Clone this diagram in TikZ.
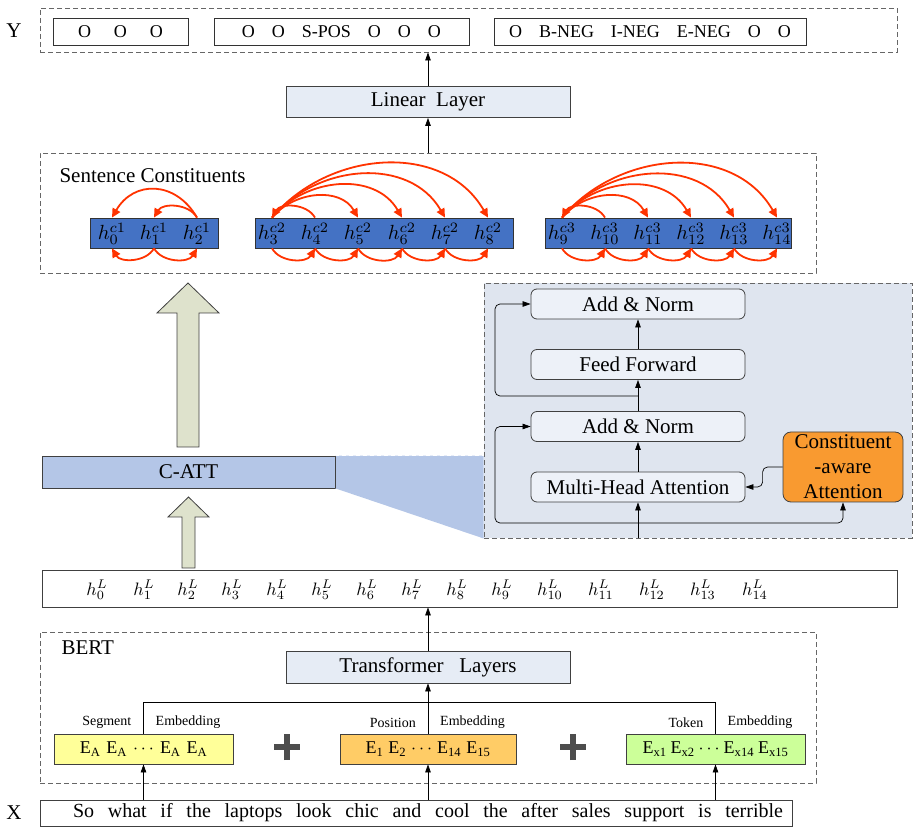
\RequirePackage{fix-cm}
\documentclass[tikz,border=0pt]{standalone}
\usepackage{fontspec}
\setmainfont{Liberation Serif}
\usepackage{tikz}
\usetikzlibrary{arrows.meta,positioning}
\definecolor{boxfill}{HTML}{E6ECF5}
\definecolor{panelfill}{HTML}{DFE5EF}
\definecolor{layerfill}{HTML}{EDF1F8}
\definecolor{cattfill}{HTML}{B4C6E7}
\definecolor{barblue}{HTML}{4472C4}
\definecolor{arcred}{HTML}{FF3300}
\definecolor{caaorange}{HTML}{F99A30}
\definecolor{segyellow}{HTML}{FFFF99}
\definecolor{posorange}{HTML}{FFCC66}
\definecolor{tokgreen}{HTML}{CCFF99}
\definecolor{blockfill}{HTML}{DEE2CC}
\definecolor{dashgray}{HTML}{666666}
\definecolor{plusgray}{HTML}{4D4D4D}
\tikzset{
  txt/.style={font=\fontsize{21}{25}\selectfont},
  dashframe/.style={draw=dashgray,line width=0.9pt,dash pattern=on 5pt off 3pt,inner sep=0pt},
  tagbox/.style={draw=black!80,line width=0.8pt,minimum height=27pt,inner sep=0pt,font=\fontsize{18}{20}\selectfont},
  layer/.style={draw=black!75,fill=boxfill,line width=0.8pt,minimum height=31pt,minimum width=284pt,inner sep=0pt,txt},
  bar/.style={draw=black!80,fill=barblue,line width=0.8pt,minimum height=30pt,inner sep=0pt},
  hc/.style={inner sep=0pt},
  hlab/.style={inner sep=0pt},
  tblock/.style={draw=black!75,fill=layerfill,rounded corners=6pt,line width=0.8pt,minimum width=214pt,minimum height=30pt,inner sep=0pt,txt},
  emb/.style={draw=black!75,line width=0.8pt,minimum height=30pt,inner sep=0pt,font=\fontsize{18}{20}\selectfont},
  elabel/.style={font=\fontsize{14}{16}\selectfont,inner sep=0pt},
  arr/.style={-{Triangle[length=8pt,width=5.5pt]},line width=0.7pt},
  link/.style={line width=0.7pt,rounded corners=5pt},
  rarc/.style={arcred,line width=1.8pt,-{Triangle[length=9pt,width=8.5pt]}},
  blockarrow/.style={draw=black!75,fill=blockfill,line width=0.8pt},
}
\newcommand{\tsp}[1]{\hspace{#1pt}}
\newcommand{\emb}[1]{E\textsubscript{#1}}
% h with sub- and superscript, set at 10pt and blown up
\newcommand{\hvec}[3]{\scalebox{#3}{\fontsize{10}{12}\selectfont$h^{#1}_{#2}$}}

\begin{document}
\begin{tikzpicture}[x=1pt,y=1pt]
  \useasboundingbox (0,0) rectangle (913,828);

  % output tags
  \node[dashframe,minimum width=857pt,minimum height=44pt] (ybox) at (468.5,798) {};
  \node[txt] (ylab) at (14,797) {Y};
  \node[tagbox,minimum width=135pt] (t1) at (120.5,796.5) {O\tsp{23}O\tsp{23}O};
  \node[tagbox,minimum width=255pt] (t2) at (341.5,796.5) {O\tsp{17}O\tsp{17}S-POS\tsp{17}O\tsp{17}O\tsp{17}O};
  \node[tagbox,minimum width=312pt] (t3) at (650,796.5) {O\tsp{17}B-NEG\tsp{17}I-NEG\tsp{17}E-NEG\tsp{17}O\tsp{17}O};

  \node[layer] (lin) at (428,726) {Linear\ \ Layer};
  \draw[arr] (lin.north) -- (lin.north |- ybox.south);

  % constituents
  \node[dashframe,minimum width=776pt,minimum height=120pt] (sc) at (428,615) {};
  \node[txt,anchor=west] (sclab) at (56,652) {Sentence Constituents};
  \draw[arr] (lin |- sc.north) -- (lin.south);
  \node[bar,minimum width=128pt] (b1) at (154,595) {};
  \node[bar,minimum width=258pt] (b2) at (384,595) {};
  \node[bar,minimum width=246pt] (b3) at (668,595) {};
  \foreach \i/\x/\g in {0/112/1,1/154/1,2/197/1,3/272/2,4/315/2,5/358/2,6/402/2,7/445/2,8/488/2,
                        9/562/3,10/605/3,11/648/3,12/691/3,13/734/3,14/777/3}
    \node[hc] (h\i) at (\x,594) {\hvec{c\g}{\i}{2.05}};

  \foreach \s/\t/\b/\o/\n/\l in {2/0/1/120/60/1.3,2/1/1/120/60/1,4/3/2/120/60/1,
                                 3/5/2/50/120/1.05,3/6/2/50/120/1.05,3/7/2/50/120/1.05,3/8/2/50/120/1.05,
                                 10/9/3/120/60/1,9/11/3/50/120/1.05,9/12/3/50/120/1.05,9/13/3/50/120/1.05,9/14/3/50/120/1.05}
    \draw[rarc] (h\s |- b\b.north) to[out=\o,in=\n,looseness=\l] (h\t |- b\b.north);
  \foreach \s/\t/\b/\o/\n in {1/0/1/-120/-60,1/2/1/-60/-120,
                              3/4/2/-60/-120,4/5/2/-60/-120,5/6/2/-60/-120,6/7/2/-60/-120,7/8/2/-60/-120,
                              9/10/3/-60/-120,10/11/3/-60/-120,11/12/3/-60/-120,12/13/3/-60/-120,13/14/3/-60/-120}
    \draw[rarc] (h\s |- b\b.south) to[out=\o,in=\n] (h\t |- b\b.south);

  % attention block and its zoomed view
  \node[dashframe,fill=panelfill,minimum width=428pt,minimum height=255pt] (panel) at (698,417.5) {};
  \node[draw=black!75,fill=cattfill,line width=0.8pt,minimum width=293pt,minimum height=32pt,inner sep=0pt,txt] (catt) at (188.5,356) {C-ATT};
  \fill[cattfill] (catt.north east) -- (panel.west |- catt.north) -- (panel.south west) -- (catt.south east) -- cycle;
  \draw[white,line width=0.6pt,dash pattern=on 4pt off 3pt] (catt.north east) -- (panel.west |- catt.north);
  \draw[black!75,line width=0.8pt] (catt.north east) -- (catt.south east);

  \draw[blockarrow] (177,381) -- (177,515) -- (157,515) -- (188,545) -- (219,515) -- (199,515) -- (199,381) -- cycle;
  \draw[blockarrow] (182,260) -- (182,311) -- (168,311) -- (188.5,331) -- (209,311) -- (195,311) -- (195,260) -- cycle;

  \node[tblock] (an1) at (638,524) {Add \& Norm};
  \node[tblock] (ff) at (638,463.5) {Feed Forward};
  \node[tblock] (an2) at (638,401.5) {Add \& Norm};
  \node[tblock] (mha) at (638,341) {Multi-Head Attention};
  \node[draw=black!75,fill=caaorange,rounded corners=8pt,line width=0.8pt,minimum width=120pt,minimum height=70pt,
        inner sep=0pt,align=center,font=\fontsize{21}{25}\selectfont] (caa) at (843,361) {Constituent\\-aware\\Attention};
  \draw[arr] (mha |- panel.south) -- (mha.south);
  \draw[arr] (mha.north) -- (an2.south);
  \draw[arr] (an2.north) -- (ff.south);
  \draw[arr] (ff.north) -- (an1.south);
  \coordinate (r1) at (638,305);
  \coordinate (r2) at (638,432);
  \draw[arr,link] (r1) -- ++(-143,0) |- (an2.west);
  \draw[arr,link] (r1) -| (caa.south);
  \draw[arr,link] (r2) -- ++(-143,0) |- (an1.west);
  \draw[arr,link] (caa.west) -- ++(-20,0) |- (mha.east);

  % last hidden layer
  \node[draw=black!75,line width=0.8pt,minimum width=855pt,minimum height=37pt,inner sep=0pt] (hrow) at (469.5,239.5) {};
  \foreach \i/\x in {0/97,1/144,2/188,3/232,4/277,5/322,6/367,7/412,8/457,9/502,10/550,11/601,12/652,13/703,14/755}
    \node[hlab] (l\i) at (\x,238) {\hvec{L}{\i}{1.8}};

  % BERT encoder
  \node[dashframe,minimum width=776pt,minimum height=151pt] (bert) at (428,120.5) {};
  \node[txt,anchor=west] (bertlab) at (58,180) {BERT};
  \node[layer,minimum height=32pt] (tl) at (428,161) {Transformer\ \ \ Layers};
  \draw[arr] (tl.north) -- (tl.north |- hrow.south);
  \node[emb,fill=segyellow,minimum width=179pt] (seg) at (143.5,79) {\emb{A}\tsp{6}\emb{A}\tsp{6}$\cdots$\tsp{6}\emb{A}\tsp{6}\emb{A}};
  \node[emb,fill=posorange,minimum width=176pt] (pos) at (428,79) {\emb{1}\tsp{5}\emb{2}\tsp{5}$\cdots$\tsp{5}\emb{14}\tsp{5}\emb{15}};
  \node[emb,fill=tokgreen,minimum width=179pt] (tok) at (715.5,79) {\emb{x1}\tsp{4}\emb{x2}\tsp{4}$\cdots$\tsp{4}\emb{x14}\tsp{4}\emb{x15}};
  \draw[line width=0.7pt] (seg.north) -- ++(0,31) -| (tok.north);
  \draw[arr] (pos.north) -- (tl.south);
  \foreach \e/\w in {seg/Segment,pos/Position,tok/Token} {
    \node[elabel,anchor=east] at ([xshift=-12pt,yshift=11pt]\e.north) {\w};
    \node[elabel,anchor=west] at ([xshift=12pt,yshift=11pt]\e.north) {Embedding};
  }
  \foreach \px in {287,573}
    \draw[plusgray,line width=6pt] (\px-13,81) -- (\px+13,81) (\px,68) -- (\px,94);

  % input sentence
  \node[txt] (xlab) at (14,15) {X};
  \node[draw=black!75,line width=0.8pt,minimum width=752pt,minimum height=26pt,inner sep=0pt,
        font=\fontsize{20}{22}\selectfont] (sent) at (416,15)
        {\hspace{24pt}\makebox[710pt][s]{So what if the laptops look chic and cool the after sales support is terrible}};
  \draw[arr] (seg |- sent.north) -- (seg.south);
  \draw[arr] (pos |- sent.north) -- (pos.south);
  \draw[arr] (tok |- sent.north) -- (tok.south);
\end{tikzpicture}
\end{document}
